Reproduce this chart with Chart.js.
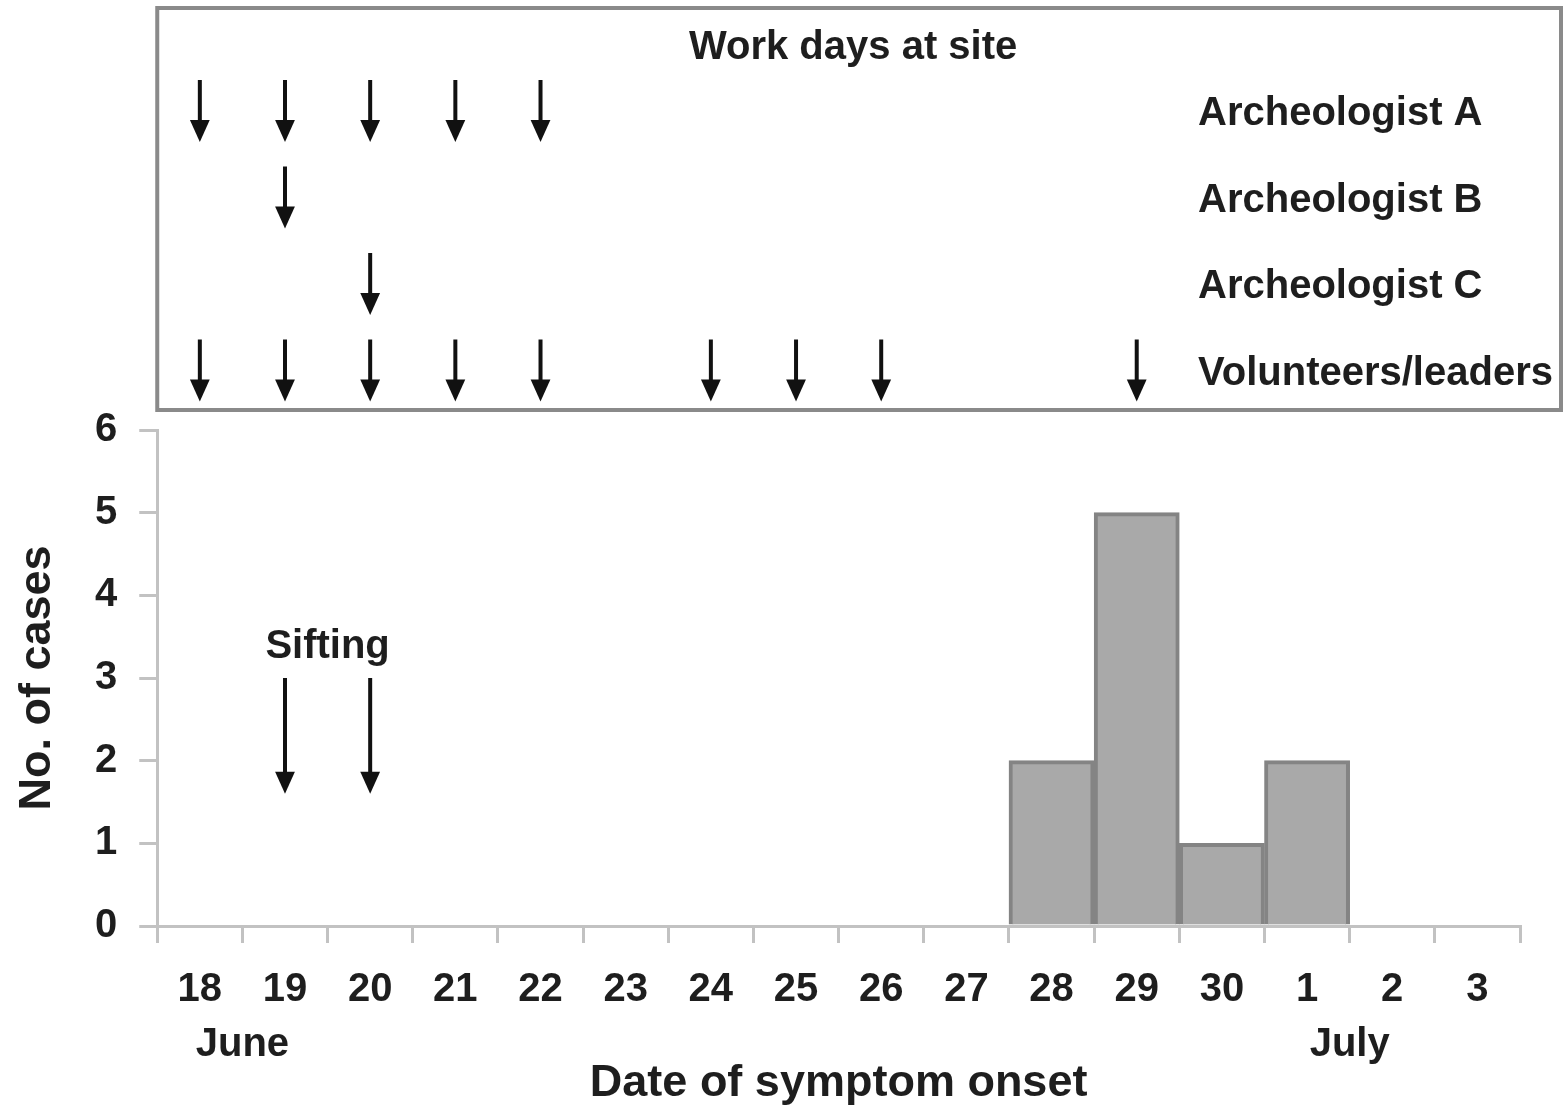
<!DOCTYPE html>
<html>
<head>
<meta charset="utf-8">
<script src="https://cdn.jsdelivr.net/npm/chart.js@4.4.1/dist/chart.umd.min.js"></script>
<style>
    html, body { margin: 0; padding: 0; background: #fff; }
    #wrap { width: 1564px; height: 1111px; }
</style>
</head>
<body>
<div id="wrap"><canvas id="container" width="1564" height="1111"></canvas></div>
<script>
// onset dates, 18 June .. 3 July
const days = ['18', '19', '20', '21', '22', '23', '24', '25', '26', '27', '28', '29', '30', '1', '2', '3'];
const cases = [0, 0, 0, 0, 0, 0, 0, 0, 0, 0, 2, 5, 1, 2, 0, 0];
const yTicks = [0, 1, 2, 3, 4, 5, 6];

// month names, each starts at this day
const months = ['June', 'July'];
const monthStart = ['18', '1'];

// work days at site (top panel)
const workers = ['Archeologist A', 'Archeologist B', 'Archeologist C', 'Volunteers/leaders'];
const workDays = [
    ['18', '19', '20', '21', '22'],
    ['19'],
    ['20'],
    ['18', '19', '20', '21', '22', '24', '25', '26', '29']
];

// sifting arrows, from / to in number of cases
const siftDays = ['19', '20'];
const siftFrom = 3;
const siftTo = 1.6;

const FONT = "'Liberation Sans', Arial, sans-serif";
const INK = '#1e1e1e';
const AXIS = '#c2c2c2';

Chart.defaults.font.family = FONT;
Chart.defaults.color = INK;

function arrow(ctx, x, y0, y1, w, head) {
    ctx.beginPath();
    ctx.lineWidth = w;
    ctx.moveTo(x, y0);
    ctx.lineTo(x, y1 - head + 2);
    ctx.stroke();
    ctx.beginPath();
    ctx.moveTo(x - head * 0.45, y1 - head);
    ctx.lineTo(x + head * 0.45, y1 - head);
    ctx.lineTo(x, y1);
    ctx.closePath();
    ctx.fill();
}

const annotations = {
    id: 'annotations',
    afterDraw(chart) {
        const ctx = chart.ctx;
        const xs = chart.scales.x;
        const ys = chart.scales.y;
        const area = chart.chartArea;
        ctx.save();
        ctx.strokeStyle = '#111';
        ctx.fillStyle = '#111';

        // top panel box
        const boxTop = 8, boxBottom = area.top - 20;
        const boxLeft = area.left, boxRight = chart.width - 3;
        ctx.lineWidth = 4;
        ctx.strokeStyle = '#8a8a8a';
        ctx.strokeRect(boxLeft, boxTop, boxRight - boxLeft, boxBottom - boxTop);

        ctx.fillStyle = INK;
        ctx.font = 'bold 40px ' + FONT;
        ctx.textAlign = 'center';
        ctx.textBaseline = 'middle';
        ctx.fillText('Work days at site', (boxLeft + boxRight) / 2 - 6, 48);

        const rowGap = 86.5, firstRow = 111;
        ctx.strokeStyle = '#111';
        workers.forEach((name, i) => {
            const cy = firstRow + i * rowGap;
            ctx.fillStyle = INK;
            ctx.textAlign = 'left';
            ctx.fillText(name, 1198, cy + 3);
            ctx.fillStyle = '#111';
            workDays[i].forEach(d => {
                const x = xs.getPixelForValue(days.indexOf(d));
                arrow(ctx, x, cy - 31, cy + 31, 4, 22);
            });
        });

        // sifting
        const sx = siftDays.map(d => xs.getPixelForValue(days.indexOf(d)));
        sx.forEach(x => arrow(ctx, x, ys.getPixelForValue(siftFrom), ys.getPixelForValue(siftTo), 4, 22));
        ctx.fillStyle = INK;
        ctx.textAlign = 'center';
        ctx.fillText('Sifting', (sx[0] + sx[sx.length - 1]) / 2, ys.getPixelForValue(siftFrom) - 31);

        // month names under the day labels
        months.forEach((m, i) => {
            const k = days.indexOf(monthStart[i]);
            const x = (xs.getPixelForValue(k) + xs.getPixelForValue(k + 1)) / 2;
            ctx.fillText(m, x, 1045);
        });
        ctx.restore();
    }
};

new Chart(document.getElementById('container'), {
    type: 'bar',
    data: {
        labels: days,
        datasets: [{
            label: 'Cases',
            data: cases,
            backgroundColor: '#a9a9a9',
            borderColor: '#848484',
            borderWidth: 4,
            barPercentage: 1,
            categoryPercentage: 1
        }]
    },
    options: {
        responsive: false,
        animation: false,
        layout: { padding: { top: 430, right: 44, bottom: 0, left: 2 } },
        plugins: {
            legend: { display: false },
            tooltip: { enabled: false }
        },
        scales: {
            x: {
                grid: { display: true, drawOnChartArea: false, offset: true, tickLength: 17, tickColor: AXIS, lineWidth: 3 },
                border: { color: AXIS, width: 3 },
                ticks: { padding: 23, font: { size: 40, weight: 'bold' }, color: INK, maxRotation: 0, autoSkip: false },
                title: {
                    display: true,
                    text: 'Date of symptom onset',
                    font: { size: 45, weight: 'bold' },
                    color: INK,
                    padding: { top: 20, bottom: 0 }
                }
            },
            y: {
                min: 0,
                max: 6,
                afterBuildTicks: (axis) => { axis.ticks = yTicks.map(v => ({ value: v })); },
                grid: { display: true, drawOnChartArea: false, tickLength: 18, tickColor: AXIS, lineWidth: 3 },
                border: { color: AXIS, width: 3 },
                ticks: { padding: 22, font: { size: 40, weight: 'bold' }, color: INK },
                title: {
                    display: true,
                    text: 'No. of cases',
                    font: { size: 45, weight: 'bold' },
                    color: INK,
                    padding: { top: 9, bottom: 8 }
                }
            }
        }
    },
    plugins: [annotations]
});
</script>
</body>
</html>
